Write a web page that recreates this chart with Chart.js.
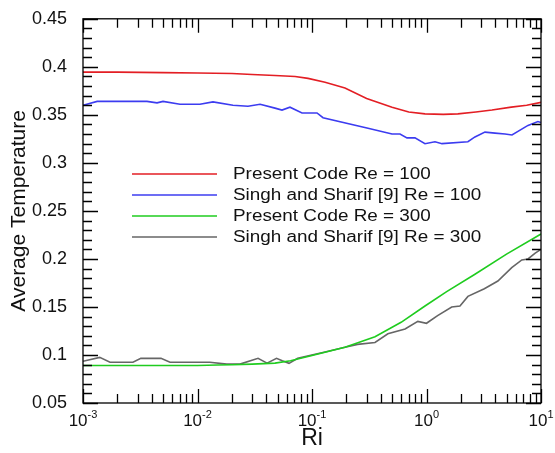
<!doctype html>
<html lang="en">
  <head>
    <meta charset="utf-8">
    <title>Average Temperature vs Ri</title>
    <script src="https://cdn.jsdelivr.net/npm/chart.js"></script>
    <style>
      html, body { margin: 0; padding: 0; background: #fff; }
      #wrap { width: 555px; height: 453px; }
    </style>
  </head>
  <body>
  <div id="wrap"><canvas id="myChart"></canvas></div>
  <script>
    // values
    const labels = ['Present Code Re = 100', 'Singh and Sharif [9] Re = 100',
                    'Present Code Re = 300', 'Singh and Sharif [9] Re = 300'];
    const colors = ['#e31e24', '#3c3cf0', '#1fcc1f', '#666666'];

    const riRed = [0.001, 0.002, 0.005, 0.01, 0.02, 0.03, 0.0475, 0.0712, 0.0923, 0.13, 0.194, 0.3, 0.5, 0.7, 0.97, 1.4, 1.88, 2.7, 3.73, 5.5, 7.5, 10];
    const tRed = [0.3945, 0.3945, 0.394, 0.3935, 0.393, 0.392, 0.391, 0.390, 0.388, 0.384, 0.378, 0.367, 0.358, 0.353, 0.351, 0.3505, 0.351, 0.353, 0.355, 0.358, 0.360, 0.363];

    const riBlue = [0.001, 0.00133, 0.00362, 0.00443, 0.005, 0.00703, 0.0105, 0.01365, 0.0204, 0.0276, 0.0352, 0.0475, 0.0547, 0.0642, 0.0818, 0.1106, 0.1248, 0.3084, 0.5, 0.587, 0.675, 0.793, 0.97, 1.186, 1.366, 2.3, 2.65, 3.24, 3.97, 4.85, 5.58, 7.7, 9.4, 10];
    const tBlue = [0.360, 0.364, 0.364, 0.3625, 0.364, 0.361, 0.361, 0.3635, 0.360, 0.359, 0.361, 0.357, 0.355, 0.358, 0.352, 0.352, 0.347, 0.336, 0.330, 0.330, 0.326, 0.326, 0.320, 0.322, 0.320, 0.322, 0.327, 0.332, 0.331, 0.330, 0.329, 0.339, 0.343, 0.342];

    const riGreen = [0.001, 0.005, 0.01, 0.015, 0.02, 0.03, 0.0475, 0.065, 0.1, 0.194, 0.355, 0.6, 0.97, 1.5, 2.65, 5, 10];
    const tGreen = [0.089, 0.089, 0.089, 0.0895, 0.0898, 0.0905, 0.0915, 0.094, 0.0995, 0.108, 0.119, 0.134, 0.151, 0.166, 0.184, 0.205, 0.226];

    const riGrey = [0.001, 0.0014, 0.00172, 0.00273, 0.0032, 0.0048, 0.00575, 0.0128, 0.018, 0.0235, 0.0338, 0.0405, 0.049, 0.055, 0.063, 0.075, 0.13, 0.194, 0.25, 0.355, 0.46, 0.65, 0.84, 1.0, 1.25, 1.66, 1.96, 2.3, 3.2, 4.2, 5.55, 6.8, 7.7, 8.9, 10];
    const tGrey = [0.0935, 0.0975, 0.0925, 0.0925, 0.0965, 0.0965, 0.0925, 0.0925, 0.0905, 0.0905, 0.0965, 0.0915, 0.0965, 0.094, 0.0913, 0.0965, 0.103, 0.108, 0.111, 0.113, 0.122, 0.127, 0.135, 0.133, 0.141, 0.150, 0.151, 0.161, 0.169, 0.177, 0.191, 0.199, 0.200, 0.206, 0.210];

    const xDecades = [-3, -2, -1, 0, 1];

    function pairs(xs, ys) {
        return xs.map((x, i) => ({x: x, y: ys[i]}));
    }

    const series = [pairs(riRed, tRed), pairs(riBlue, tBlue), pairs(riGreen, tGreen), pairs(riGrey, tGrey)];

    // frame, inward ticks on all four sides, 10^n labels
    const framePlugin = {
        id: 'frame',
        afterDraw: (chart) => {
            const ctx = chart.ctx;
            const {left, right, top, bottom} = chart.chartArea;
            const xs = chart.scales.x, ys = chart.scales.y;
            ctx.save();
            ctx.strokeStyle = '#000';
            ctx.lineWidth = 1.3;
            ctx.strokeRect(left, top, right - left, bottom - top);
            ctx.beginPath();
            xDecades.forEach(d => {
                for (let m = 1; m <= 9; m++) {
                    const v = m * Math.pow(10, d);
                    if (v > 10.0001) break;
                    const px = Math.round(xs.getPixelForValue(v)) + 0.5;
                    const len = m === 1 ? 14 : 9;
                    ctx.moveTo(px, bottom); ctx.lineTo(px, bottom - len);
                    ctx.moveTo(px, top); ctx.lineTo(px, top + len);
                }
            });
            for (let k = 5; k <= 45; k++) {
                const py = Math.round(ys.getPixelForValue(k / 100)) + 0.5;
                const len = k % 5 === 0 ? 15 : 9;
                ctx.moveTo(left, py); ctx.lineTo(left + len, py);
                ctx.moveTo(right, py); ctx.lineTo(right - len, py);
            }
            ctx.stroke();

            ctx.fillStyle = '#111';
            ctx.textBaseline = 'alphabetic';
            ctx.textAlign = 'left';
            xDecades.forEach(d => {
                const px = xs.getPixelForValue(Math.pow(10, d));
                ctx.font = '17px "Liberation Sans", Arial, sans-serif';
                const wBase = ctx.measureText('10').width;
                ctx.font = '11px "Liberation Sans", Arial, sans-serif';
                const exp = String(d);
                const wExp = ctx.measureText(exp).width;
                const x0 = px - (wBase + wExp) / 2;
                ctx.font = '17px "Liberation Sans", Arial, sans-serif';
                ctx.fillText('10', x0, bottom + 23);
                ctx.font = '11px "Liberation Sans", Arial, sans-serif';
                ctx.fillText(exp, x0 + wBase, bottom + 15);
            });
            ctx.restore();
        }
    };

    // legend drawn inside the plot
    const legendPlugin = {
        id: 'innerLegend',
        afterDatasetsDraw: (chart) => {
            const ctx = chart.ctx;
            ctx.save();
            ctx.font = '16px "Liberation Sans", Arial, sans-serif';
            ctx.textBaseline = 'middle';
            chart.data.datasets.forEach((ds, i) => {
                const y = 174 + i * 21;
                ctx.strokeStyle = ds.borderColor;
                ctx.lineWidth = 1.6;
                ctx.beginPath();
                ctx.moveTo(132, y); ctx.lineTo(217, y);
                ctx.stroke();
                ctx.save();
                ctx.translate(233, y + 1);
                ctx.scale(1.18, 1);
                ctx.fillStyle = '#111';
                ctx.fillText(ds.label, 0, 0);
                ctx.restore();
            });
            ctx.restore();
        }
    };

    const ctx = document.getElementById('myChart');
    const myChart = new Chart(ctx, {
        type: 'line',
        data: {
            datasets: series.map((s, i) => ({
                label: labels[i],
                data: s,
                borderColor: colors[i],
                backgroundColor: colors[i],
                borderWidth: 1.6,
                pointRadius: 0,
                fill: false,
                tension: 0
            }))
        },
        plugins: [legendPlugin, framePlugin],
        options: {
            responsive: true,
            maintainAspectRatio: false,
            animation: false,
            layout: { padding: { top: 16, right: 14, left: 0, bottom: 0 } },
            plugins: {
                legend: { display: false },
                tooltip: { enabled: false }
            },
            scales: {
                x: {
                    type: 'logarithmic',
                    min: 0.001,
                    max: 10,
                    grid: { display: false },
                    border: { display: false },
                    ticks: { display: false },
                    title: {
                        display: true,
                        text: 'Ri',
                        color: '#111',
                        font: { family: '"Liberation Sans", Arial, sans-serif', size: 23 },
                        padding: { top: 0, bottom: 1 }
                    },
                    afterFit: (s) => { s.height = 50; }
                },
                y: {
                    min: 0.05,
                    max: 0.45,
                    grid: { display: false },
                    border: { display: false },
                    ticks: {
                        stepSize: 0.05,
                        color: '#111',
                        padding: 8,
                        font: { family: '"Liberation Sans", Arial, sans-serif', size: 18 },
                        callback: (v) => String(+v.toFixed(2))
                    },
                    title: {
                        display: true,
                        text: 'Average Temperature',
                        color: '#111',
                        font: { family: '"Liberation Sans", Arial, sans-serif', size: 21 },
                        padding: { top: 7, bottom: 0 }
                    },
                    afterFit: (s) => { s.width = 83; }
                }
            }
        }
    });
  </script>
  </body>
</html>
